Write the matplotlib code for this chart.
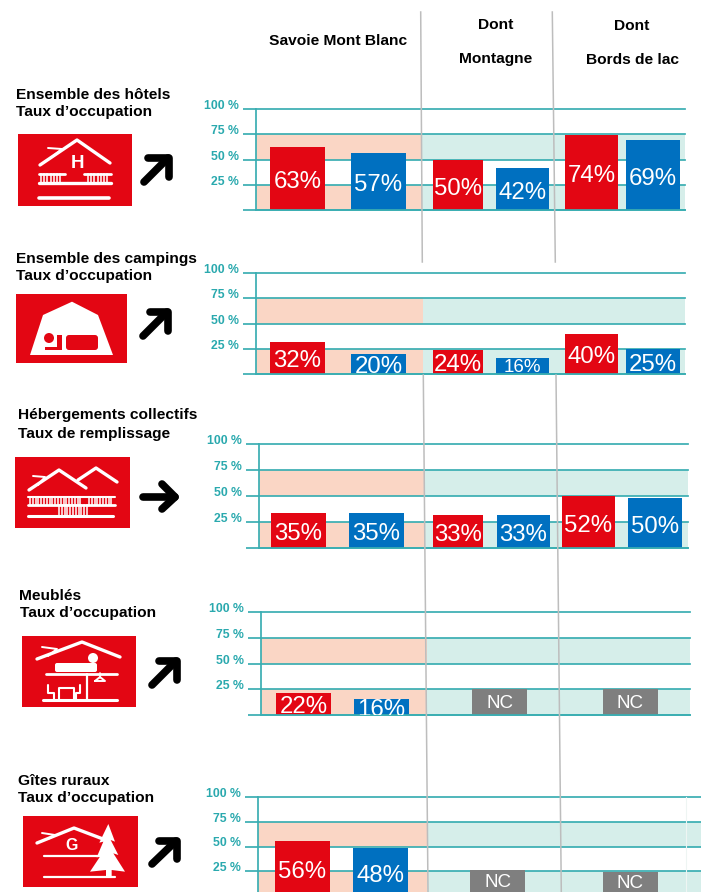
#!/usr/bin/env python3
# -*- coding: utf-8 -*-
import matplotlib
matplotlib.use('Agg')
import matplotlib.pyplot as plt
from matplotlib.patches import Rectangle, Polygon, Circle, FancyBboxPatch

plt.rcParams['font.family'] = ['Liberation Sans', 'DejaVu Sans']

# valeurs (hauteur des barres) et etiquettes
hotels_vals = [63, 57, 50, 42, 74, 69]
hotels_txt = ['63%', '57%', '50%', '42%', '74%', '69%']
campings_vals = [32, 20, 24, 16, 40, 25]
campings_txt = ['32%', '20%', '24%', '16%', '40%', '25%']
collectifs_vals = [34, 34, 32, 32, 50, 48]
collectifs_txt = ['35%', '35%', '33%', '33%', '52%', '50%']
meubles_vals = [22, 16, 25, 25]
meubles_txt = ['22%', '16%', 'NC', 'NC']
gites_vals = [56, 48, 26, 24]
gites_txt = ['56%', '48%', 'NC', 'NC']

ticks = [0, 25, 50, 75, 100]
tick_txt = ['', '25 %', '50 %', '75 %', '100 %']

titles = [['Ensemble des hôtels', 'Taux d’occupation'],
          ['Ensemble des campings', 'Taux d’occupation'],
          ['Hébergements collectifs', 'Taux de remplissage'],
          ['Meublés', 'Taux d’occupation'],
          ['Gîtes ruraux', 'Taux d’occupation']]

# couleurs
rouge = '#e30613'
bleu = '#0070c0'
gris = '#7f7f7f'
rose = '#fad6c5'
vert = '#d6eeea'
trait = '#3aaeb2'
texte_axe = '#2aa9ae'
sep = '#bdbdbd'

W, H = 701., 892.
fig = plt.figure(figsize=(7.01, 8.92), dpi=100)

# geometrie en pixels: x axe, x fin, y 100%, y 0%, x coupure rose/vert
geo = [(255.7, 685, 109.0, 210.4, 421.5),
       (255.7, 685, 273.3, 374.0, 423.0),
       (258.7, 688, 444.3, 548.0, 425.0),
       (260.7, 690, 611.7, 715.3, 427.0),
       (257.7, 701, 797.0, 896.0, 427.0)]
# bord gauche et largeur des barres en pixels
barx = [[(270, 55), (351, 55), (433, 50), (496, 53), (565, 53), (626, 54)],
        [(270, 55), (351, 55), (433, 50), (496, 53), (565, 53), (626, 54)],
        [(271, 55), (349, 55), (433, 50), (497, 53), (562, 53), (628, 54)],
        [(276, 55), (354, 55), (472, 55), (603, 55)],
        [(275, 55), (353, 55), (470, 55), (603, 55)]]

vals = [hotels_vals, campings_vals, collectifs_vals, meubles_vals, gites_vals]
txts = [hotels_txt, campings_txt, collectifs_txt, meubles_txt, gites_txt]

for i in range(5):
    x0, x1, y100, y0, cut = geo[i]
    ax = fig.add_axes([x0/W, 1-y0/H, (x1-x0)/W, (y0-y100)/H])
    ax.set_xlim(x0, x1)
    ax.set_ylim(0, 100)
    # bandes
    for a, b in [(0, 25), (50, 75)]:
        ax.fill_between([x0, cut], a, b, color=rose, lw=0, zorder=0.2)
        ax.fill_between([cut, x1], a, b, color=vert, lw=0, zorder=0.2)
    ax.set_axisbelow(True)
    ax.grid(axis='y', color=trait, lw=1.25)
    ax.set_xticks([])
    ax.set_yticks(ticks)
    ax.set_yticklabels(tick_txt, color=texte_axe, fontsize=8.8, fontweight='bold')
    for t in ax.get_yticklabels():
        t.set_va('baseline')
    # sinon la ligne du 100% est coupee en deux par le bord de l'axe
    for g in ax.get_ygridlines():
        g.set_clip_on(False)
    ax.tick_params(axis='y', length=9.4, width=1.25, color=trait, pad=2.7)
    for s in ['top', 'right']:
        ax.spines[s].set_visible(False)
    for s in ['left', 'bottom']:
        ax.spines[s].set_color(trait)
        ax.spines[s].set_linewidth(1.25)

    lefts = [b[0] for b in barx[i]]
    widths = [b[1] for b in barx[i]]
    cols = []
    for k, t in enumerate(txts[i]):
        if t == 'NC':
            cols.append(gris)
        elif k % 2 == 0:
            cols.append(rouge)
        else:
            cols.append(bleu)
    bars = ax.bar(lefts, vals[i], width=widths, align='edge', color=cols, zorder=2)
    labs = ax.bar_label(bars, labels=txts[i], label_type='center', color='white',
                        fontsize=17.3, zorder=3)
    for t, s in zip(labs, txts[i]):
        t.set_clip_on(True)
        t.set_clip_box(ax.bbox)
        t.xyann = (0, -2.5)
        if s == 'NC':
            t.set_fontsize(13.5)
            t.xyann = (0, -1)
            if i == 4:
                t.xyann = (0, 0.8)
        if i == 1 and s == '16%':
            t.set_fontsize(13.5)
            t.xyann = (0, -1)

# calque en pixels pour titres, pictos, separateurs
bg = fig.add_axes([0, 0, 1, 1], zorder=10)
bg.set_xlim(0, W)
bg.set_ylim(H, 0)
bg.axis('off')
bg.patch.set_alpha(0)

# separateurs verticaux
for xa, ya, xb, yb in [(420.7, 12, 422.3, 262), (552.3, 12, 555.3, 262),
                       (423.3, 375, 428, 892), (556, 375, 561.3, 892)]:
    bg.plot([xa, xb], [ya, yb], color=sep, lw=1.1)
bg.plot([686, 686], [797, 892], color='#eef5f3', lw=0.8)

# titres colonnes
fs_t = 11.15
bg.text(338.5, 45, 'Savoie Mont Blanc', ha='center', va='baseline', fontsize=fs_t, fontweight='bold')
bg.text(496, 29, 'Dont', ha='center', va='baseline', fontsize=fs_t, fontweight='bold')
bg.text(496, 62.5, 'Montagne', ha='center', va='baseline', fontsize=fs_t, fontweight='bold')
bg.text(632, 30, 'Dont', ha='center', va='baseline', fontsize=fs_t, fontweight='bold')
bg.text(632, 63.5, 'Bords de lac', ha='center', va='baseline', fontsize=fs_t, fontweight='bold')

# titres lignes
pos_t = [(15.5, 98.7, 115.7), (15.5, 262.7, 280), (18, 419, 438), (19.5, 600, 617), (18, 785, 802)]
for (x, y1, y2), t in zip(pos_t, titles):
    bg.text(x, y1, t[0], ha='left', va='baseline', fontsize=fs_t, fontweight='bold')
    bg.text(x, y2, t[1], ha='left', va='baseline', fontsize=fs_t, fontweight='bold')


def ligne(pts, lw=2.4, col='white'):
    xs = [p[0] for p in pts]
    ys = [p[1] for p in pts]
    bg.plot(xs, ys, color=col, lw=lw, solid_capstyle='round', solid_joinstyle='round')


def fond(x0, y0, x1, y1):
    bg.add_patch(Rectangle((x0, y0), x1-x0, y1-y0, color=rouge, lw=0))


def balustre(xa, xb, ya, yb, pas=3.2):
    x = xa
    while x <= xb:
        bg.plot([x, x], [ya, yb], color='white', lw=1.1)
        x += pas


# picto hotels
fond(18, 134, 132, 206)
ligne([(40, 165), (77, 140), (110, 163)])
ligne([(48, 148), (62, 149), (52, 157)], lw=1.4)
bg.text(78, 164, 'H', color='white', ha='center', va='center', fontsize=13.5, fontweight='bold')
ligne([(39, 174), (65, 174)], lw=2.0)
ligne([(84, 174), (111, 174)], lw=2.0)
ligne([(39, 183), (111, 183)], lw=2.4)
balustre(41, 61, 174, 183)
balustre(88, 109, 174, 183)
ligne([(39, 198), (109, 198)], lw=2.6)

# picto campings
fond(16, 294, 127, 363)
bg.add_patch(Polygon([(30, 355), (43, 315), (72, 301.7), (98, 315), (113, 355)], color='white', lw=0))
bg.add_patch(Circle((49, 338), 5, color=rouge, lw=0))
bg.add_patch(FancyBboxPatch((66, 335), 32, 15, boxstyle='round,pad=0,rounding_size=3', color=rouge, lw=0))
bg.add_patch(Rectangle((45, 346.5), 17, 3.5, color=rouge, lw=0))
bg.add_patch(Rectangle((57, 335), 5, 15, color=rouge, lw=0))

# picto hebergements collectifs
fond(15, 457, 130, 527.7)
ligne([(29, 490), (59, 470), (86, 488)])
ligne([(78, 480), (96, 468), (117, 482)])
ligne([(33, 476), (45, 477), (38, 485)], lw=1.4)
ligne([(28, 497), (115, 497)], lw=1.5)
ligne([(28, 505), (115, 505)], lw=2.0)
balustre(30, 82, 497, 505, 2.8)
balustre(89, 113, 497, 505, 2.8)
balustre(59, 89, 505, 515, 2.8)
ligne([(28, 516), (113, 516)], lw=2.2)

# picto meubles
fond(22, 636, 136, 706.7)
ligne([(37, 659), (82, 642), (120, 657)])
ligne([(42, 647), (57, 649), (48, 656)], lw=1.4)
bg.add_patch(FancyBboxPatch((55, 663), 42, 9, boxstyle='round,pad=0,rounding_size=2', color='white', lw=0))
bg.add_patch(Circle((93, 658), 5, color='white', lw=0))
ligne([(46, 674), (117, 674)], lw=2.0)
ligne([(87, 674), (87, 700)], lw=1.6)
ligne([(43, 700), (117, 700)], lw=2.2)
ligne([(95, 681), (100, 677), (105, 681), (95, 681)], lw=1.4)
ligne([(100, 673), (100, 678)], lw=1.2)
ligne([(48, 685), (48, 693), (54, 693), (54, 699)], lw=1.5)
ligne([(59, 699), (59, 688), (74, 688), (74, 699)], lw=1.5)
ligne([(80, 685), (80, 693), (76, 693), (76, 699)], lw=1.5)

# picto gites
fond(23, 816, 138, 886.7)
ligne([(37, 843), (74, 828), (103, 839)])
ligne([(42, 833), (55, 835), (48, 839)], lw=1.4)
bg.text(72, 845, 'G', color='white', ha='center', va='center', fontsize=11.5, fontweight='bold')
ligne([(44, 855.7), (100, 855.7)], lw=1.6)
ligne([(44, 877), (115, 877)], lw=1.6)
sapin = [(325, 762), (345, 815), (332, 810), (355, 855), (340, 850), (375, 905), (335, 900), (335, 920),
         (318, 920), (318, 900), (270, 905), (300, 860), (290, 862), (310, 815), (298, 818)]
bg.add_patch(Polygon([(a/3., 570+b/3.) for a, b in sapin], color='white', lw=0))

# fleches
fl = 5.5
ligne([(144, 182), (168, 158)], fl, 'k')
ligne([(148, 158), (169, 158), (169, 177)], fl, 'k')
ligne([(143, 336), (167, 312)], fl, 'k')
ligne([(150, 312), (168, 312), (168, 331)], fl, 'k')
ligne([(143, 497), (175, 497)], fl, 'k')
ligne([(162, 484), (175, 497), (162, 509)], fl, 'k')
ligne([(152, 685), (176, 661)], fl, 'k')
ligne([(159, 661), (177, 661), (177, 680)], fl, 'k')
ligne([(152, 864), (176, 841)], fl, 'k')
ligne([(159, 841), (177, 841), (177, 859)], fl, 'k')

plt.savefig('out.png', dpi=100)
